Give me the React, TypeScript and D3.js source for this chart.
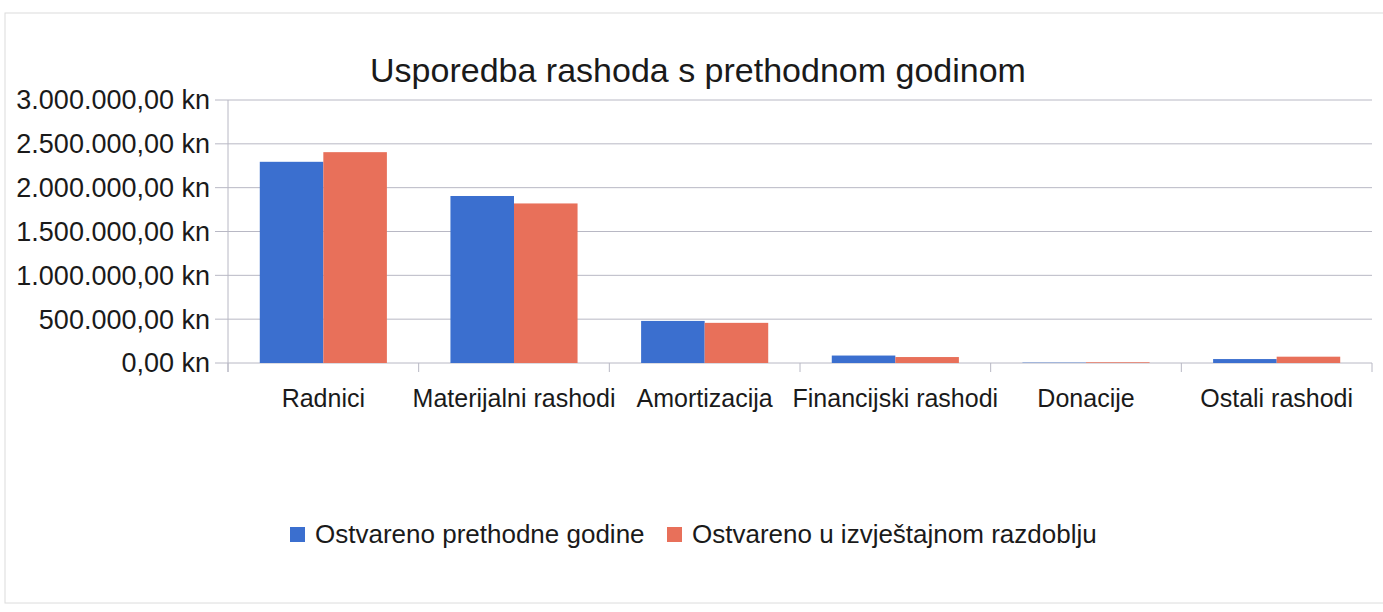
import * as d3 from 'd3';

// categories and series values (kn)
const categories = ['Radnici', 'Materijalni rashodi', 'Amortizacija', 'Financijski rashodi', 'Donacije', 'Ostali rashodi'];
const prevYear = [2295000, 1905000, 480000, 85000, 4000, 45000];
const currentPeriod = [2405000, 1820000, 458000, 68000, 8000, 72000];
const seriesNames = ['Ostvareno prethodne godine', 'Ostvareno u izvještajnom razdoblju'];
const yTicks = [0, 500000, 1000000, 1500000, 2000000, 2500000, 3000000];

const colors = ['#3b6fcf', '#e8705a'];
const font = '"Liberation Sans", Arial, sans-serif';

const fmt = (v: number) => {
    const s = d3.format(',.2f')(v); // 3,000,000.00
    return s.replace(/,/g, '#').replace('.', ',').replace(/#/g, '.') + ' kn';
};

export default function App() {
    const width = 1383;
    const height = 612;
    const left = 228;
    const right = 1372;
    const top = 100;
    const bottom = 363;

    const x = d3.scaleBand<string>().domain(categories).range([left, right]).paddingInner(0).paddingOuter(0);
    const y = d3.scaleLinear().domain([0, 3000000]).range([bottom, top]);
    // gap width 100%: each bar is a third of the category
    const inner = d3.scaleBand<number>().domain([0, 1]).range([0, x.bandwidth()]).paddingInner(0).paddingOuter(0.5);

    const series = [prevYear, currentPeriod];
    const boundaries = categories.map((c) => x(c)!).concat([right]);

    return (
        <svg width={width} height={height} style={{ display: 'block', position: 'absolute', left: 0, top: 0, background: '#fff' }}>
            <rect x={5} y={13} width={1400} height={590} fill="#fff" stroke="#dcdcdc" strokeWidth={1} />
            <text x={698} y={82} textAnchor="middle" fontFamily={font} fontSize={34} fill="#1a1a1a">
                Usporedba rashoda s prethodnom godinom
            </text>

            {/* grid + y axis */}
            {yTicks.map((t) => (
                <g key={t}>
                    <line x1={215} x2={right} y1={y(t)} y2={y(t)} stroke="#b8b8c4" strokeWidth={1} />
                    <text x={210} y={y(t)} dy="0.35em" textAnchor="end" fontFamily={font} fontSize={27} fill="#1a1a1a">
                        {fmt(t)}
                    </text>
                </g>
            ))}
            <line x1={left} x2={left} y1={top} y2={bottom + 9} stroke="#b8b8c4" strokeWidth={1} />
            {boundaries.map((bx, i) => (
                <line key={i} x1={bx} x2={bx} y1={bottom} y2={bottom + 9} stroke="#b8b8c4" strokeWidth={1} />
            ))}

            {/* bars */}
            {series.map((vals, si) =>
                categories.map((c, ci) => (
                    <rect
                        key={`${si}-${ci}`}
                        x={x(c)! + inner(si)!}
                        y={y(vals[ci])}
                        width={inner.bandwidth()}
                        height={bottom - y(vals[ci])}
                        fill={colors[si]}
                    />
                ))
            )}

            {/* category labels */}
            {categories.map((c) => (
                <text key={c} x={x(c)! + x.bandwidth() / 2} y={407} textAnchor="middle" fontFamily={font} fontSize={25} fill="#1a1a1a">
                    {c}
                </text>
            ))}

            {/* legend */}
            <rect x={290} y={527} width={15} height={15} fill={colors[0]} />
            <text x={315} y={543} fontFamily={font} fontSize={26} fill="#1a1a1a">{seriesNames[0]}</text>
            <rect x={667} y={527} width={15} height={15} fill={colors[1]} />
            <text x={692} y={543} fontFamily={font} fontSize={26} fill="#1a1a1a">{seriesNames[1]}</text>
        </svg>
    );
}
